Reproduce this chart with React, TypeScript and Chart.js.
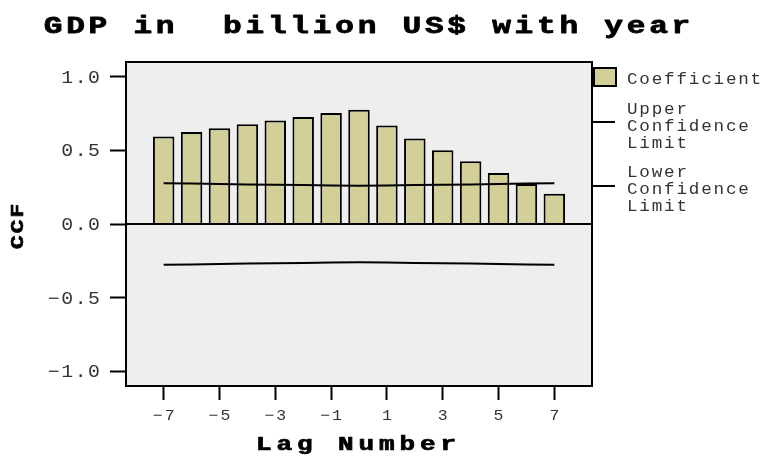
import React, { useEffect, useRef } from "react";
import { Chart, registerables } from "chart.js";

Chart.register(...registerables);

// Cross-correlation of GDP (billion US$) with year
const lags = [-7, -6, -5, -4, -3, -2, -1, 0, 1, 2, 3, 4, 5, 6, 7];
const coefficients = [0.594, 0.624, 0.651, 0.678, 0.703, 0.726, 0.753, 0.776, 0.669, 0.58, 0.501, 0.426, 0.347, 0.272, 0.206];
const upperLimit = [0.277, 0.275, 0.272, 0.269, 0.267, 0.264, 0.262, 0.26, 0.262, 0.264, 0.267, 0.269, 0.272, 0.275, 0.277];
const lowerLimit = [-0.277, -0.275, -0.272, -0.269, -0.267, -0.264, -0.262, -0.26, -0.262, -0.264, -0.267, -0.269, -0.272, -0.275, -0.277];
const yTickValues = [-1.0, -0.5, 0.0, 0.5, 1.0];
const yTickLabels = ["\u22121.0", "\u22120.5", "0.0", "0.5", "1.0"];
const xTickValues = [-7, -5, -3, -1, 1, 3, 5, 7];
const xTickLabels = ["\u22127", "\u22125", "\u22123", "\u22121", "1", "3", "5", "7"];

const TITLE = "GDP in  billion US$ with year";
const X_TITLE = "Lag Number";
const Y_TITLE = "CCF";
const LEGEND_BAR = "Coefficient";
const LEGEND_UPPER = ["Upper", "Confidence", "Limit"];
const LEGEND_LOWER = ["Lower", "Confidence", "Limit"];

const MONO = "'Courier New', 'Liberation Mono', monospace";
const BAR_FILL = "#d3cf99";
const PLOT_BG = "#eeeeee";

type Ctx = CanvasRenderingContext2D;

// Draws text stretched horizontally by sx, with ls px of extra space between glyphs.
function spaced(
  ctx: Ctx,
  text: string,
  x: number,
  y: number,
  font: string,
  sx: number,
  ls: number,
  align: "left" | "center" | "right",
  color: string,
  stroke = 0
) {
  ctx.save();
  ctx.font = font;
  (ctx as any).letterSpacing = "0px";
  const w = ctx.measureText(text).width * sx + ls * (text.length - 1);
  let left = x;
  if (align === "center") left = x - w / 2;
  else if (align === "right") left = x - w;
  ctx.translate(left, y);
  ctx.scale(sx, 1);
  (ctx as any).letterSpacing = ls / sx + "px";
  ctx.textAlign = "left";
  ctx.textBaseline = "alphabetic";
  ctx.fillStyle = color;
  ctx.fillText(text, 0, 0);
  if (stroke > 0) {
    ctx.strokeStyle = color;
    ctx.lineWidth = stroke;
    ctx.lineJoin = "round";
    ctx.strokeText(text, 0, 0);
  }
  ctx.restore();
}

const decorations = {
  id: "ccfDecorations",
  beforeDraw(chart: any) {
    const { ctx, chartArea: a } = chart;
    ctx.save();
    ctx.fillStyle = PLOT_BG;
    ctx.fillRect(a.left, a.top, a.right - a.left, a.bottom - a.top);
    ctx.restore();
  },
  afterDatasetsDraw(chart: any) {
    const { ctx, chartArea: a } = chart;
    const yScale = chart.scales.y;
    const xScale = chart.scales.x;
    ctx.save();
    ctx.strokeStyle = "#000";
    ctx.lineWidth = 2;
    // zero reference line
    const y0 = Math.round(yScale.getPixelForValue(0));
    ctx.beginPath();
    ctx.moveTo(a.left, y0);
    ctx.lineTo(a.right, y0);
    ctx.stroke();
    // frame
    ctx.strokeRect(a.left, a.top, a.right - a.left, a.bottom - a.top);
    ctx.restore();

    // tick labels
    yTickValues.forEach((v, i) => {
      const py = yScale.getPixelForValue(v);
      spaced(ctx, yTickLabels[i], 100, py + 6, "18px " + MONO, 1.1, 1.6, "right", "#333");
    });
    xTickValues.forEach((v, i) => {
      const px = xScale.getPixelForValue(v);
      spaced(ctx, xTickLabels[i], px, 420, "15px " + MONO, 1.1, 2, "center", "#333");
    });

    // titles
    spaced(ctx, TITLE, 367, 33, "bold 24px " + MONO, 1.3, 3.7, "center", "#000", 0.8);
    spaced(ctx, X_TITLE, 356, 450, "bold 20px " + MONO, 1.3, 4.9, "center", "#000", 0.7);
    ctx.save();
    ctx.translate(23, 226.5);
    ctx.rotate(-Math.PI / 2);
    spaced(ctx, Y_TITLE, 0, 0, "bold 18px " + MONO, 1.3, 1.7, "center", "#000", 0.6);
    ctx.restore();

    // legend
    ctx.save();
    ctx.fillStyle = BAR_FILL;
    ctx.fillRect(594, 68, 22, 18);
    ctx.strokeStyle = "#000";
    ctx.lineWidth = 2;
    ctx.strokeRect(594, 68, 22, 18);
    ctx.beginPath();
    ctx.moveTo(a.right, 122);
    ctx.lineTo(615, 122);
    ctx.moveTo(a.right, 186);
    ctx.lineTo(615, 186);
    ctx.stroke();
    ctx.restore();
    const lf = "16px " + MONO;
    spaced(ctx, LEGEND_BAR, 627, 84, lf, 1.1, 1.8, "left", "#333");
    LEGEND_UPPER.forEach((t, i) => spaced(ctx, t, 627, 114 + i * 17, lf, 1.1, 1.8, "left", "#333"));
    LEGEND_LOWER.forEach((t, i) => spaced(ctx, t, 627, 177 + i * 17, lf, 1.1, 1.8, "left", "#333"));
  },
};

export default function App() {
  const ref = useRef<HTMLCanvasElement | null>(null);

  useEffect(() => {
    if (!ref.current) return;
    const chart = new Chart(ref.current, {
      type: "bar",
      data: {
        datasets: [
          {
            type: "line",
            label: "Upper Confidence Limit",
            data: lags.map((x, i) => ({ x, y: upperLimit[i] })),
            borderColor: "#000",
            borderWidth: 2,
            pointRadius: 0,
            tension: 0,
            order: 0,
          } as any,
          {
            type: "line",
            label: "Lower Confidence Limit",
            data: lags.map((x, i) => ({ x, y: lowerLimit[i] })),
            borderColor: "#000",
            borderWidth: 2,
            pointRadius: 0,
            tension: 0,
            order: 0,
          } as any,
          {
            type: "bar",
            label: "Coefficient",
            data: lags.map((x, i) => ({ x, y: coefficients[i] })),
            backgroundColor: BAR_FILL,
            borderColor: "#000",
            borderWidth: 2,
            categoryPercentage: 1,
            barPercentage: 0.77,
            order: 2,
          } as any,
        ],
      },
      options: {
        responsive: false,
        animation: false,
        events: [],
        layout: { padding: { left: 0, top: 62, right: 173, bottom: 0 } },
        plugins: { legend: { display: false }, title: { display: false }, tooltip: { enabled: false } },
        scales: {
          x: {
            type: "linear",
            offset: false,
            min: -8.35,
            max: 8.35,
            afterBuildTicks: (s: any) => {
              s.ticks = xTickValues.map((value) => ({ value }));
            },
            afterFit: (s: any) => {
              s.height = 82;
            },
            ticks: { display: false },
            grid: { offset: false, drawOnChartArea: false, drawTicks: true, tickLength: 14, tickColor: "#000", tickWidth: 2 },
            border: { display: false },
          },
          y: {
            type: "linear",
            min: -1.1,
            max: 1.1,
            afterBuildTicks: (s: any) => {
              s.ticks = yTickValues.map((value) => ({ value }));
            },
            afterFit: (s: any) => {
              s.width = 126;
            },
            ticks: { display: false },
            grid: { drawOnChartArea: false, drawTicks: true, tickLength: 16, tickColor: "#000", tickWidth: 2 },
            border: { display: false },
          },
        },
      },
      plugins: [decorations],
    });
    return () => chart.destroy();
  }, []);

  return (
    <div style={{ position: "absolute", left: 0, top: 0, width: 765, height: 468, background: "#fff" }}>
      <canvas ref={ref} width={765} height={468} style={{ display: "block" }} />
    </div>
  );
}
